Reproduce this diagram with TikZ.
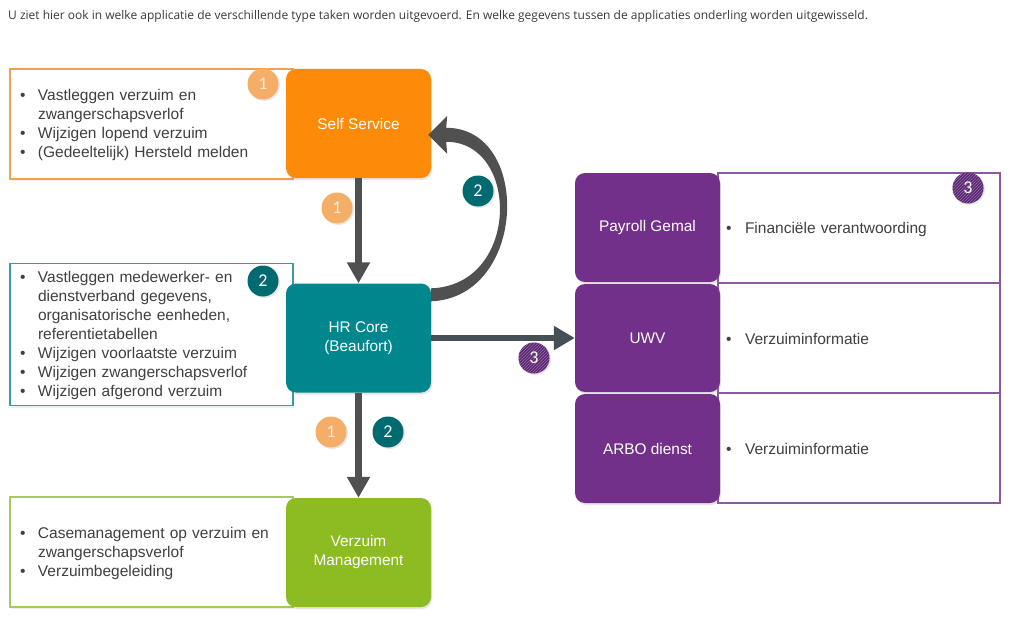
\documentclass[tikz,border=0pt]{standalone}
\usepackage{fontspec}
\setmainfont{Liberation Sans}
\newfontfamily\hdrfont{Open Sans}
\newfontfamily\badgefont{Carlito}
\usetikzlibrary{arrows.meta,shadows,patterns,calc}
\definecolor{cOrange}{HTML}{FD8A08}
\definecolor{cTeal}{HTML}{00878E}
\definecolor{cGreen}{HTML}{8DBB22}
\definecolor{cPurple}{HTML}{72308A}
\definecolor{bOrange}{HTML}{F4AE68}
\definecolor{bTeal}{HTML}{006A71}
\definecolor{bPurple}{HTML}{5A2472}
\definecolor{lOrange}{HTML}{F5A050}
\definecolor{lTeal}{HTML}{3A9CA2}
\definecolor{lGreen}{HTML}{A6CA5C}
\definecolor{lPurple}{HTML}{8A5A9E}
\definecolor{txtGray}{HTML}{404040}
\definecolor{hdrGray}{HTML}{3A3A3A}
\definecolor{arrGray}{HTML}{505050}
\definecolor{arrBlue}{HTML}{464F55}
\newcommand\itm[1]{\par\noindent\hangindent=18pt\hangafter=1\makebox[18pt][l]{\textbullet}#1}
\newcommand\ritm[1]{\par\noindent\hangindent=19pt\hangafter=1\makebox[19pt][l]{\textbullet}#1}
\tikzset{
  appbox/.style={rectangle, rounded corners=10pt, minimum width=145pt, minimum height=109pt,
    inner sep=0pt, text=white, align=center, font=\fontsize{15.4}{19}\selectfont,
    drop shadow={opacity=0.2, shadow xshift=1pt, shadow yshift=-2pt}},
  txtbox/.style={rectangle, line width=1.1pt, fill=white, minimum height=110pt,
    text width=263pt, inner xsep=10pt, inner ysep=0pt, text=txtGray,
    font=\fontsize{15.5}{19}\selectfont,
    drop shadow={opacity=0.12, shadow xshift=1pt, shadow yshift=-2pt}},
  rbox/.style={rectangle, line width=1.1pt, draw=lPurple, fill=white, minimum height=110pt,
    text width=266pt, inner xsep=8pt, inner ysep=0pt, text=txtGray,
    font=\fontsize{15.5}{19}\selectfont},
  badge/.style={circle, minimum size=31pt, inner sep=0pt, text=white,
    font=\badgefont\fontsize{18}{18}\selectfont,
    drop shadow={opacity=0.18, shadow xshift=1.5pt, shadow yshift=-1.5pt}},
  arr/.style={arrGray, line width=7.5pt, -{Triangle[length=21pt,width=22pt]}},
  harr/.style={arrBlue, line width=6.5pt, -{Triangle[length=21pt,width=23pt]}},
}
\begin{document}
\begin{tikzpicture}[x=1pt,y=-1pt]
\useasboundingbox[fill=white] (0,0) rectangle (1024,623);
% header
\node[anchor=west, inner sep=0pt, text=hdrGray, font=\hdrfont\fontsize{12}{14}\selectfont] (hdr) at (8,16)
 {U ziet hier ook in welke applicatie de verschillende type taken worden uitgevoerd. En welke gegevens tussen de applicaties onderling worden uitgewisseld.};
% left text boxes
\node[txtbox, draw=lOrange] (t1) at (151.5,124) {\itm{Vastleggen verzuim en\newline zwangerschapsverlof}\itm{Wijzigen lopend verzuim}\itm{(Gedeeltelijk) Hersteld melden}\par\vspace{6pt}};
\node[txtbox, draw=lTeal, minimum height=139pt] (t2) at (151.5,334.5) {\itm{Vastleggen medewerker- en\newline dienstverband gegevens,\newline organisatorische eenheden,\newline referentietabellen}\itm{Wijzigen voorlaatste verzuim}\itm{Wijzigen zwangerschapsverlof}\itm{Wijzigen afgerond verzuim}\par\vspace{6pt}};
\node[txtbox, draw=lGreen] (t3) at (151.5,552) {\itm{Casemanagement op verzuim en\newline zwangerschapsverlof}\itm{Verzuimbegeleiding}\par\vspace{5pt}};
% app boxes
\node[appbox, fill=cOrange] (ss) at (358.5,123.5) {Self Service};
\node[appbox, fill=cTeal] (hr) at (358.5,338) {HR Core\\(Beaufort)};
\node[appbox, fill=cGreen] (vm) at (358.5,552.5) {Verzuim\\Management};
% right boxes
\node[rbox] (r1) at (859,228) {\ritm{Financiële verantwoording}\par\vspace{5pt}};
\node[rbox] (r2) at (859,338) {\ritm{Verzuiminformatie}\par\vspace{5pt}};
\node[rbox] (r3) at (859,448) {\ritm{Verzuiminformatie}\par\vspace{5pt}};
\node[appbox, fill=cPurple] (pg) at (647.5,227.5) {Payroll Gemal};
\node[appbox, fill=cPurple, minimum height=108pt] (uwv) at (647.5,338) {UWV};
\node[appbox, fill=cPurple] (arbo) at (647.5,448.5) {ARBO dienst};
% connectors
\draw[arr] (ss.south) -- (hr.north);
\draw[arr] (hr.south) -- (vm.north);
\draw[harr] (hr.east) -- (uwv.west);
% tapered curved arrow HR Core -> Self Service
\fill[arrGray] ($(hr.north east)+(0,18)$) .. controls +(96,-4) and +(86,0) .. ($(ss.north east)+(15,59)$)
  -- ($(ss.north east)+(16,47)$) -- ($(ss.north east)+(-3,66)$) -- ($(ss.north east)+(16,85)$)
  -- ($(ss.north east)+(15,73)$) .. controls +(74,0) and +(89,-3) .. ($(hr.north east)+(0,5)$) -- cycle;
% badges
\tikzset{ob/.style={badge, fill=bOrange, text=white!75!bOrange},
  tb/.style={badge, fill=bTeal},
  pb/.style={badge, fill=bPurple, postaction={pattern=north east lines, pattern color=white!35!bPurple}}}
\node[ob] (b1a) at (263,84) {1};
\node[tb] (b2a) at (263,281) {2};
\node[ob] (b1b) at (337,208) {1};
\node[tb] (b2b) at (478,191) {2};
\node[ob] (b1c) at (331,432) {1};
\node[tb] (b2c) at (388,432) {2};
\node[pb] (b3a) at (534,358) {3};
\node[pb] (b3b) at (968,188) {3};
\end{tikzpicture}
\end{document}
